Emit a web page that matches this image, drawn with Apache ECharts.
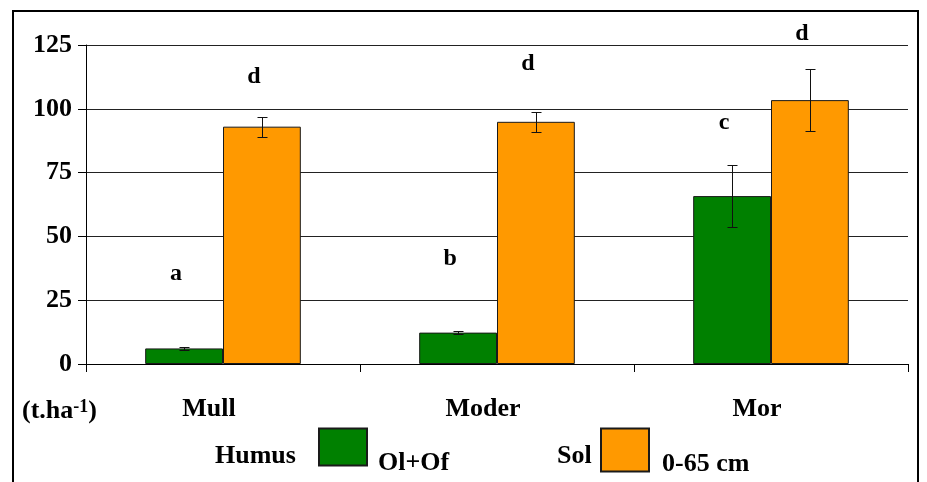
<!DOCTYPE html>
<html><head><meta charset="utf-8">
<script src="https://cdn.jsdelivr.net/npm/echarts@6/dist/echarts.min.js"></script>
<style>html,body{margin:0;padding:0;background:#fff}#c{width:927px;height:482px}</style>
</head><body><div id="c"></div>
<script>
// ---- data ----
const categories = ['Mull', 'Moder', 'Mor'];
const humus = [6.1, 12.3, 65.8];       // Humus Ol+Of (t.ha-1)
const humusErr = [0.7, 0.5, 12.0];
const sol = [93.0, 94.9, 103.4];       // Sol 0-65 cm (t.ha-1)
const solErr = [3.9, 3.9, 12.0];
const humusLetters = ['a', 'b', 'c'];
const solLetters = ['d', 'd', 'd'];
const humusLetterY = [35.2, 41.1, 94.4];   // annotation heights (axis units)
const solLetterY = [112.4, 117.5, 129.3];
const yTicks = [0, 25, 50, 75, 100, 125];

// ---- chart ----
const FONT = "'Liberation Serif', 'Times New Roman', serif";
const BAR_FRAC = 0.284;
const chart = echarts.init(document.getElementById('c'), null, {renderer: 'canvas'});

function errRender(sign) {
  return function (params, api) {
    const i = api.value(0), v = api.value(1), e = api.value(2);
    const bw = api.size([1, 0])[0];
    const c = api.coord([i, v]);
    const x = Math.round(c[0] + sign * BAR_FRAC * bw / 2) + 0.5;
    const top = Math.round(api.coord([i, v + e])[1]) + 0.5;
    const bot = Math.round(api.coord([i, v - e])[1]) + 0.5;
    const hw = 5;
    const st = {stroke: '#111', lineWidth: 1};
    return {type: 'group', children: [
      {type: 'line', shape: {x1: x, y1: top, x2: x, y2: bot}, style: st},
      {type: 'line', shape: {x1: x - hw, y1: top, x2: x + hw, y2: top}, style: st},
      {type: 'line', shape: {x1: x - hw, y1: bot, x2: x + hw, y2: bot}, style: st}
    ]};
  };
}
function letterRender(sign, letters) {
  return function (params, api) {
    const i = api.value(0), v = api.value(1);
    const bw = api.size([1, 0])[0];
    const c = api.coord([i, v]);
    const x = c[0] + sign * BAR_FRAC * bw / 2 - 8;
    return {type: 'text', x: x, y: c[1], style: {
      text: letters[params.dataIndex], font: 'bold 24px ' + FONT, fill: '#000',
      align: 'center', verticalAlign: 'middle'}};
  };
}

const txt = {fontFamily: FONT, fontWeight: 'bold', fontSize: 26, color: '#000'};

chart.setOption({
  animation: false,
  backgroundColor: '#fff',
  grid: {left: 86, right: 19, top: 45, bottom: 118},
  xAxis: {
    type: 'category', data: categories, boundaryGap: true,
    axisLine: {lineStyle: {color: '#000', width: 1}},
    axisTick: {show: true, interval: 0, length: 8, lineStyle: {color: '#000'}},
    axisLabel: Object.assign({margin: 32, interval: 0, padding: [0, 28, 0, 0]}, txt),
    splitLine: {show: false}
  },
  yAxis: {
    type: 'value', min: 0, max: 125, interval: 25,
    axisLine: {show: true, lineStyle: {color: '#000', width: 1}},
    axisTick: {show: true, length: 8, lineStyle: {color: '#000'}},
    axisLabel: Object.assign({margin: 14, formatter: v => yTicks.includes(v) ? String(v) : ''}, txt),
    splitLine: {show: true, lineStyle: {color: '#222', width: 1}}
  },
  legend: [
    {data: ['Ol+Of'], left: 318, top: 415, padding: 0, itemWidth: 48, itemHeight: 37, icon: 'rect',
     formatter: n => '\n' + n,
     textStyle: Object.assign({lineHeight: 32, padding: [0, 0, 0, 6]}, txt)},
    {data: ['0-65 cm'], left: 600, top: 422, padding: 0, itemWidth: 48, itemHeight: 43, icon: 'rect',
     formatter: n => '\n' + n,
     textStyle: Object.assign({lineHeight: 28, padding: [0, 0, 0, 8]}, txt)}
  ],
  graphic: [
    {type: 'rect', shape: {x: 13, y: 11, width: 905, height: 490}, style: {fill: 'none', stroke: '#000', lineWidth: 2}, z: 100},
    {type: 'text', x: 215, y: 456, style: {text: 'Humus', font: 'bold 26px ' + FONT, fill: '#000', verticalAlign: 'middle'}},
    {type: 'text', x: 557, y: 456, style: {text: 'Sol', font: 'bold 26px ' + FONT, fill: '#000', verticalAlign: 'middle'}},
    {type: 'text', x: 22, y: 411, style: {
      text: '{a|(t.ha}{s|-1}{a|)}', verticalAlign: 'middle',
      rich: {
        a: {fontFamily: FONT, fontWeight: 'bold', fontSize: 26, fill: '#000'},
        s: {fontFamily: FONT, fontWeight: 'bold', fontSize: 18, fill: '#000', verticalAlign: 'top', padding: [0, 0, 8, 0]}
      }}}
  ],
  series: [
    {name: 'Ol+Of', type: 'bar', data: humus, barWidth: (BAR_FRAC * 100) + '%', barGap: '0%',
     itemStyle: {color: '#008000', borderColor: '#1a1a1a', borderWidth: 1}},
    {name: '0-65 cm', type: 'bar', data: sol, barWidth: (BAR_FRAC * 100) + '%', barGap: '0%',
     itemStyle: {color: '#FF9900', borderColor: '#1a1a1a', borderWidth: 1}},
    {type: 'custom', renderItem: errRender(-1), z: 5, clip: false,
     data: categories.map((c, i) => [i, humus[i], humusErr[i]])},
    {type: 'custom', renderItem: errRender(1), z: 5, clip: false,
     data: categories.map((c, i) => [i, sol[i], solErr[i]])},
    {type: 'custom', renderItem: letterRender(-1, humusLetters), z: 6, clip: false,
     data: categories.map((c, i) => [i, humusLetterY[i]])},
    {type: 'custom', renderItem: letterRender(1, solLetters), z: 6, clip: false,
     data: categories.map((c, i) => [i, solLetterY[i]])}
  ]
});
</script>
</body></html>
